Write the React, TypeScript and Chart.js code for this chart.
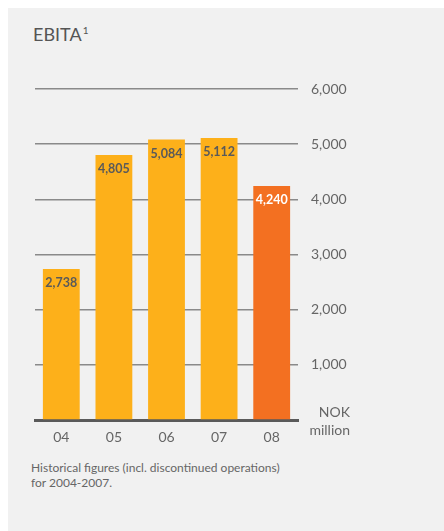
import React, { useEffect, useRef } from "react";
import { Chart, registerables } from "chart.js";

Chart.register(...registerables);

const categories = ["04", "05", "06", "07", "08"];
const ebita = [2738, 4805, 5084, 5112, 4240];
const barColors = ["#FDB01A", "#FDB01A", "#FDB01A", "#FDB01A", "#F37021"];
const labelColors = ["#5a5a5a", "#5a5a5a", "#5a5a5a", "#5a5a5a", "#ffffff"];
const yTicks = [0, 1000, 2000, 3000, 4000, 5000, 6000];
const unitLines = ["NOK", "million"];

const FONT = "Lato, 'Open Sans', 'DejaVu Sans', sans-serif";

const fmt = (v: number) => v.toLocaleString("en-US");

const labelPlugin = {
  id: "barLabels",
  afterDatasetsDraw(chart: any) {
    const ctx = chart.ctx;
    const meta = chart.getDatasetMeta(0);
    ctx.save();
    ctx.font = `bold 12.5px ${FONT}`;
    ctx.textAlign = "center";
    ctx.textBaseline = "middle";
    meta.data.forEach((bar: any, i: number) => {
      ctx.fillStyle = labelColors[i];
      ctx.fillText(fmt(ebita[i]), bar.x, bar.y + 14);
    });
    ctx.restore();
  },
};

const unitPlugin = {
  id: "unitLabel",
  afterDraw(chart: any) {
    const ctx = chart.ctx;
    const area = chart.chartArea;
    ctx.save();
    ctx.font = `14px ${FONT}`;
    ctx.fillStyle = "#666666";
    ctx.textAlign = "right";
    ctx.textBaseline = "middle";
    const x = area.right + 52;
    ctx.fillText(unitLines[0], x, area.bottom - 8);
    ctx.fillText(unitLines[1], x, area.bottom + 10);
    ctx.restore();
  },
};

export default function App() {
  const ref = useRef<HTMLCanvasElement | null>(null);

  useEffect(() => {
    document.body.style.margin = "0";
    document.body.style.overflow = "hidden";
    if (!ref.current) return;
    const chart = new Chart(ref.current, {
      type: "bar",
      data: {
        labels: categories,
        datasets: [
          {
            data: ebita,
            backgroundColor: barColors,
            borderWidth: 0,
            categoryPercentage: 1,
            barPercentage: 0.7,
          },
        ],
      },
      options: {
        animation: false,
        responsive: false,
        maintainAspectRatio: false,
        layout: { padding: { left: 27, top: 29, right: 0, bottom: 0 } },
        plugins: {
          legend: { display: false },
          tooltip: { enabled: false },
        },
        scales: {
          x: {
            grid: { display: false, drawTicks: false },
            border: { display: true, color: "#5a5a5a", width: 3 },
            ticks: {
              color: "#666666",
              font: { family: FONT, size: 14 },
              padding: 9,
            },
            afterFit: (axis: any) => {
              axis.height = 30;
            },
          },
          y: {
            position: "right",
            min: 0,
            max: 6000,
            afterBuildTicks: (axis: any) => {
              axis.ticks = yTicks.map((v) => ({ value: v }));
            },
            grid: { color: "#8a8a8a", lineWidth: 1.5, drawTicks: false },
            border: { display: false },
            ticks: {
              color: "#666666",
              font: { family: FONT, size: 14 },
              padding: 13,
              callback: (v: any) => (v === 0 ? "" : fmt(Number(v))),
            },
            afterFit: (axis: any) => {
              axis.width = 146;
            },
          },
        },
      },
      plugins: [labelPlugin, unitPlugin],
    });
    return () => chart.destroy();
  }, []);

  return (
    <div
      style={{
        position: "relative",
        marginLeft: 8,
        marginTop: 8,
        width: 436,
        height: 523,
        background: "#f1f1f1",
        fontFamily: FONT,
      }}
    >
      <div
        style={{
          position: "absolute",
          left: 25,
          top: 15,
          fontSize: 18,
          lineHeight: "22px",
          color: "#555555",
        }}
      >
        EBITA
        <sup style={{ fontSize: 10, verticalAlign: "top", position: "relative", top: -4, marginLeft: 1 }}>1</sup>
      </div>
      <canvas
        ref={ref}
        width={436}
        height={390}
        style={{ position: "absolute", left: 0, top: 52, width: 436, height: 390 }}
      />
      <div
        style={{
          position: "absolute",
          left: 23,
          top: 452,
          fontSize: 12,
          lineHeight: "15px",
          color: "#666666",
        }}
      >
        Historical figures (incl. discontinued operations)
        <br />
        for 2004-2007.
      </div>
    </div>
  );
}
